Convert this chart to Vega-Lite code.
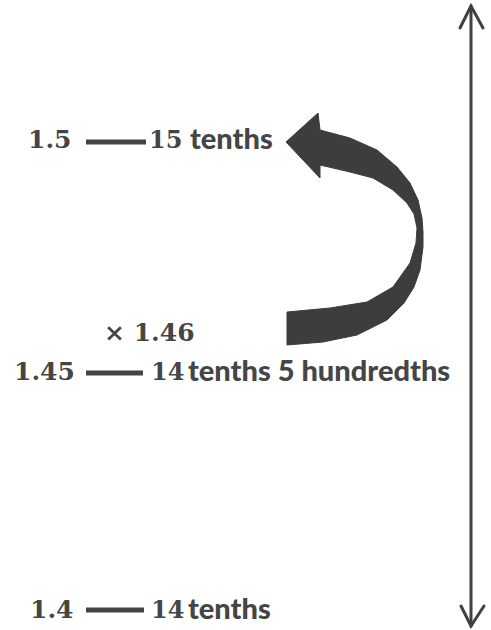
{
  "$schema": "https://vega.github.io/schema/vega-lite/v6.json",
  "width": 491,
  "height": 630,
  "padding": 0,
  "autosize": {"type": "none"},
  "config": {"view": {"stroke": null}},
  "datasets": {
    "labels": [
      {"label": "1.5", "x": 28, "y": 140, "role": "decimal"},
      {"label": "15", "x": 149, "y": 141, "role": "count"},
      {"label": "tenths", "x": 190, "y": 140, "role": "word"},
      {"label": "× 1.46", "x": 104, "y": 333, "role": "decimal"},
      {"label": "1.45", "x": 14, "y": 372, "role": "decimal"},
      {"label": "14", "x": 151, "y": 373, "role": "count"},
      {"label": "tenths 5 hundredths", "x": 188, "y": 372, "role": "word"},
      {"label": "1.4", "x": 30, "y": 610, "role": "decimal"},
      {"label": "14", "x": 151, "y": 611, "role": "count"},
      {"label": "tenths", "x": 188, "y": 610, "role": "word"}
    ],
    "dashes": [
      {"x": 86, "x2": 146, "y": 142},
      {"x": 86, "x2": 143, "y": 373},
      {"x": 86, "x2": 144, "y": 610}
    ],
    "numberline": [
      {"seg": "shaft", "i": 0, "x": 471, "y": 6},
      {"seg": "shaft", "i": 1, "x": 471, "y": 626},
      {"seg": "top", "i": 0, "x": 460, "y": 28},
      {"seg": "top", "i": 1, "x": 471, "y": 6},
      {"seg": "top", "i": 2, "x": 483, "y": 28},
      {"seg": "bottom", "i": 0, "x": 461, "y": 606},
      {"seg": "bottom", "i": 1, "x": 471, "y": 626},
      {"seg": "bottom", "i": 2, "x": 484, "y": 606}
    ],
    "curve": [
      {"i": 0, "x": 286, "y": 142},
      {"i": 1, "x": 318, "y": 113},
      {"i": 2, "x": 320, "y": 130},
      {"i": 3, "x": 350, "y": 138},
      {"i": 4, "x": 377, "y": 150},
      {"i": 5, "x": 397, "y": 167},
      {"i": 6, "x": 410, "y": 183},
      {"i": 7, "x": 418, "y": 200},
      {"i": 8, "x": 422, "y": 218},
      {"i": 9, "x": 423, "y": 232},
      {"i": 10, "x": 423, "y": 247},
      {"i": 11, "x": 420, "y": 270},
      {"i": 12, "x": 414, "y": 287},
      {"i": 13, "x": 404, "y": 303},
      {"i": 14, "x": 387, "y": 320},
      {"i": 15, "x": 357, "y": 335},
      {"i": 16, "x": 323, "y": 342},
      {"i": 17, "x": 287, "y": 345},
      {"i": 18, "x": 287, "y": 312},
      {"i": 19, "x": 330, "y": 308},
      {"i": 20, "x": 367, "y": 302},
      {"i": 21, "x": 393, "y": 287},
      {"i": 22, "x": 410, "y": 263},
      {"i": 23, "x": 416, "y": 243},
      {"i": 24, "x": 417, "y": 228},
      {"i": 25, "x": 414, "y": 214},
      {"i": 26, "x": 407, "y": 203},
      {"i": 27, "x": 393, "y": 190},
      {"i": 28, "x": 373, "y": 178},
      {"i": 29, "x": 350, "y": 172},
      {"i": 30, "x": 320, "y": 165},
      {"i": 31, "x": 320, "y": 178},
      {"i": 32, "x": 286, "y": 142}
    ]
  },
  "encoding": {
    "x": {"field": "x", "type": "quantitative", "scale": {"domain": [0, 491], "nice": false, "zero": false}, "axis": null},
    "y": {"field": "y", "type": "quantitative", "scale": {"domain": [0, 630], "nice": false, "zero": false, "reverse": true}, "axis": null}
  },
  "layer": [
    {
      "data": {"name": "curve"},
      "mark": {"type": "line", "fill": "#3d3d3d", "stroke": "#3d3d3d", "strokeWidth": 1, "interpolate": "linear"},
      "encoding": {"order": {"field": "i", "type": "quantitative"}}
    },
    {
      "data": {"name": "numberline"},
      "mark": {"type": "line", "stroke": "#404040", "strokeWidth": 3, "strokeCap": "round", "strokeJoin": "miter"},
      "encoding": {
        "detail": {"field": "seg", "type": "nominal"},
        "order": {"field": "i", "type": "quantitative"}
      }
    },
    {
      "data": {"name": "dashes"},
      "mark": {"type": "rule", "stroke": "#444444", "strokeWidth": 5},
      "encoding": {"x2": {"field": "x2"}}
    },
    {
      "data": {"name": "labels"},
      "transform": [{"filter": "datum.role === 'decimal'"}],
      "mark": {"type": "text", "align": "left", "baseline": "middle", "font": "DejaVu Serif", "fontWeight": "bold", "fontSize": 25, "fill": "#454545"},
      "encoding": {"text": {"field": "label"}}
    },
    {
      "data": {"name": "labels"},
      "transform": [{"filter": "datum.role === 'count'"}],
      "mark": {"type": "text", "align": "left", "baseline": "middle", "font": "DejaVu Serif", "fontWeight": "bold", "fontSize": 24, "fill": "#454545"},
      "encoding": {"text": {"field": "label"}}
    },
    {
      "data": {"name": "labels"},
      "transform": [{"filter": "datum.role === 'word'"}],
      "mark": {"type": "text", "align": "left", "baseline": "middle", "font": "Lato", "fontWeight": 900, "fontSize": 29, "fill": "#454545"},
      "encoding": {"text": {"field": "label"}}
    }
  ]
}
